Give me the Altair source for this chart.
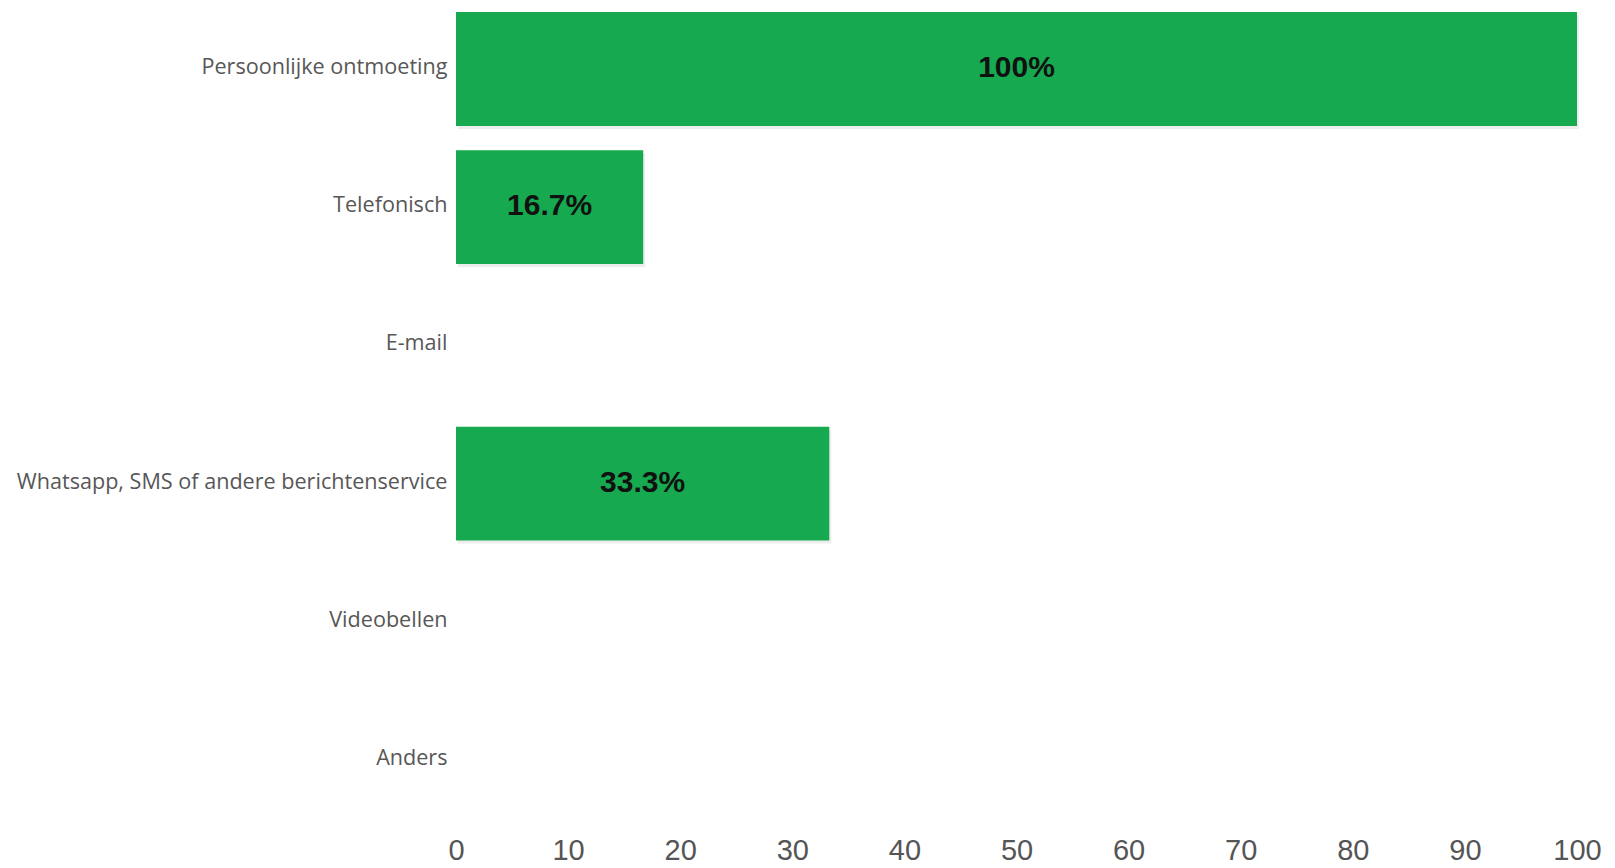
import altair as alt
import pandas as pd

categories = ["Persoonlijke ontmoeting", "Telefonisch", "E-mail",
              "Whatsapp, SMS of andere berichtenservice", "Videobellen", "Anders"]
values = [100, 16.7, 0, 33.3, 0, 0]
labels = ["100%", "16.7%", "", "33.3%", "", ""]

df = pd.DataFrame({"cat": categories, "v": values, "lab": labels})

y_scale = alt.Scale(paddingInner=0.176, paddingOuter=0.029)

y_enc = alt.Y("cat:N", sort=categories, title=None, scale=y_scale,
              axis=alt.Axis(ticks=False, domain=False, labelPadding=9,
                            labelOffset=-1,
                            labelFont="Open Sans", labelFontSize=21.6,
                            labelColor="#575757", labelLimit=600))
x_enc = alt.X("v:Q", title=None,
              scale=alt.Scale(domain=[0, 100], nice=False),
              axis=alt.Axis(values=list(range(0, 101, 10)), format="d",
                            grid=False, ticks=False, domain=False,
                            labelFlush=False, labelOverlap=False,
                            labelPadding=15, labelFont="Liberation Sans",
                            labelFontSize=29, labelColor="#555555"))

shadow = alt.Chart(df).mark_bar(color="#000000", opacity=0.07,
                                xOffset=2, yOffset=3).encode(
    y=alt.Y("cat:N", sort=categories, scale=y_scale),
    x=alt.X("v:Q"),
)

bars = alt.Chart(df).mark_bar(color="#16a94f").encode(y=y_enc, x=x_enc)

text = alt.Chart(df).transform_filter("datum.v > 0").transform_calculate(
    mid="datum.v / 2"
).mark_text(font="Liberation Sans", fontWeight="bold", fontSize=30,
            color="#111111", baseline="middle", align="center", dy=-1).encode(
    y=alt.Y("cat:N", sort=categories),
    x=alt.X("mid:Q"),
    text="lab:N",
)

chart = (shadow + bars + text).properties(
    width=1121, height=813,
    autosize=alt.AutoSizeParams(type="none"),
    padding={"left": 448, "top": 0, "right": 28, "bottom": 45},
).configure_view(stroke=None)

chart.save("out.html", embed_options={"renderer": "svg", "actions": False})
